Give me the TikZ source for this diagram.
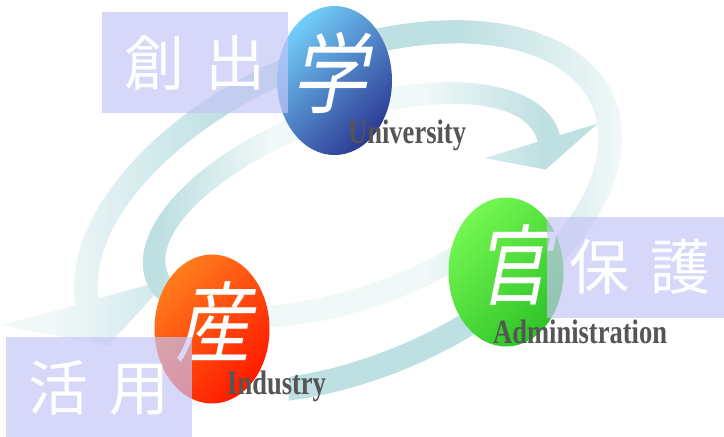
\documentclass[tikz,border=0pt]{standalone}
\usepackage{fontspec}
\usetikzlibrary{shapes.geometric}
\setmainfont{Liberation Serif}
\newfontfamily\jpsans{Noto Sans CJK JP}
\newfontfamily\jpslant[FakeSlant=0.2,FakeStretch=0.86]{Noto Sans CJK JP}
\newfontfamily\latinlab[FakeStretch=0.78]{Liberation Serif}
\definecolor{ringteal}{HTML}{BEE0E3}
\definecolor{ringpale}{HTML}{F1F8F8}
\definecolor{gakuhi}{HTML}{72CDF8}
\definecolor{gakulo}{HTML}{2C3A94}
\definecolor{kanhi}{HTML}{74F751}
\definecolor{kanlo}{HTML}{2FC428}
\definecolor{sanhi}{HTML}{FF7C1C}
\definecolor{sanlo}{HTML}{FF1A00}
\definecolor{lav}{HTML}{C4C4F7}
\definecolor{labink}{HTML}{555555}
\pgfdeclarehorizontalshading{outerring}{100bp}{color(0bp)=(ringpale); color(29bp)=(ringpale);
  color(43bp)=(ringteal); color(62bp)=(ringteal); color(75bp)=(ringpale); color(100bp)=(ringpale)}
\pgfdeclarehorizontalshading{innerring}{100bp}{color(0bp)=(ringteal); color(27bp)=(ringteal);
  color(39bp)=(ringpale); color(56bp)=(ringpale); color(69bp)=(ringteal); color(100bp)=(ringteal)}
\tikzset{
  kanode/.style={ellipse, minimum width=115pt, minimum height=149pt, inner sep=0pt},
  kanji/.style={font=\jpslant\fontsize{88pt}{88pt}\selectfont, text=white, inner sep=0pt},
  namebox/.style={fill=lav, fill opacity=0.67, text opacity=1, minimum width=186pt, minimum height=101pt,
    inner sep=0pt, text=white, font=\jpsans\fontsize{60pt}{60pt}\selectfont},
  latin/.style={font=\latinlab\bfseries\fontsize{34pt}{34pt}\selectfont, text=labink, anchor=base west, inner sep=0pt},
}
\begin{document}
\begin{tikzpicture}[x=1pt, y=-1pt]
  \useasboundingbox (0,0) rectangle (724,437);
  \fill[white] (0,0) rectangle (724,437);
  % 外側の矢印
  \begin{scope}[shift={(348,212)}, rotate=23.5]
    \shade[shading=outerring]
      plot[domain=116.6:-171.9, samples=90] ({290*cos(\x)}, {167*sin(\x)})
      -- ({366*cos(-171.9)}, {243*sin(-171.9)})
      -- ({278*cos(-190)}, {155*sin(-190)})
      -- ({193*cos(-171.9)}, {70*sin(-171.9)})
      -- plot[domain=-171.9:116.6, samples=90] ({266*cos(\x)}, {143*sin(\x)})
      -- cycle;
  \end{scope}
  % 内側の矢印
  \begin{scope}[shift={(352,205)}, rotate=20]
    \shade[shading=innerring]
      plot[domain=60:363, samples=90] ({219.5*cos(\x)}, {103.5*sin(\x)})
      -- ({259*cos(363)}, {143*sin(363)})
      -- ({208*cos(381)}, {92*sin(381)})
      -- ({141*cos(363)}, {25*sin(363)})
      -- plot[domain=363:60, samples=90] ({196.5*cos(\x)}, {80.5*sin(\x)})
      -- cycle;
  \end{scope}
  \node[kanode, top color=gakuhi, bottom color=gakulo, shading angle=45] (gaku) at (334.5,80.5) {};
  \node[kanode, top color=kanhi, bottom color=kanlo, shading angle=45] (kan) at (506,272) {};
  \node[kanode, top color=sanhi, bottom color=sanlo, shading angle=45] (san) at (212,329) {};
  \node[kanji, shift={(-5,-8)}] (gakuch) at (gaku) {学};
  \node[kanji, shift={(6,-7)}] (kanch) at (kan) {官};
  \node[kanji, shift={(1,-7)}] (sanch) at (san) {産};
  \node[namebox] (souzo) at (195,62.5) {創\hspace{21pt}出};
  \node[namebox] (hogo) at (640,267) {保\hspace{21pt}護};
  \node[namebox] (katsu) at (99,387.5) {活\hspace{21pt}用};
  \node[latin] (univ) at (348,143) {University};
  \node[latin] (admin) at (493,343) {Administration};
  \node[latin] (ind) at (227,394) {Industry};
\end{tikzpicture}
\end{document}
